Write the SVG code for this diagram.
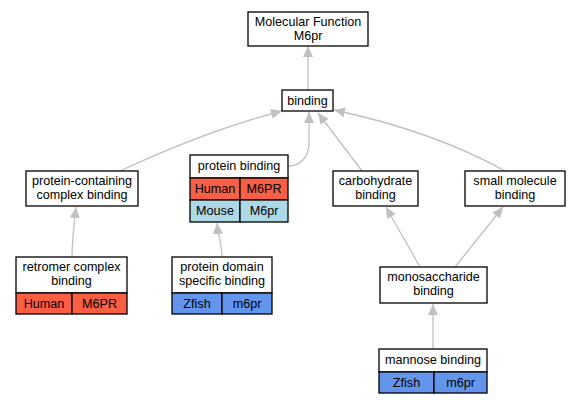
<svg xmlns="http://www.w3.org/2000/svg" width="577" height="405" viewBox="0 0 577 405">
<defs>
<marker id="arr" markerUnits="userSpaceOnUse" markerWidth="12" markerHeight="10" refX="11" refY="5" orient="auto">
<path d="M0,0 L11,5 L0,10 Z" fill="#c0c0c0"/>
</marker>
<style>
.box{fill:#fff;stroke:#000;stroke-width:1.3}
.red{fill:#fa5e44;stroke:#000;stroke-width:1.3}
.lb{fill:#add8e6;stroke:#000;stroke-width:1.3}
.bl{fill:#6495ed;stroke:#000;stroke-width:1.3}
text{font-family:"Liberation Sans",Arial,sans-serif;font-size:12.6px;fill:#000;text-anchor:middle}
.e{fill:none;stroke:#c0c0c0;stroke-width:1.3;marker-end:url(#arr)}
</style>
</defs>
<rect width="577" height="405" fill="#fff"/>
<g id="edges">
<path class="e" d="M308,90 L308,46"/>
<path class="e" d="M120,171 C165,150 220,127 282,111"/>
<path class="e" d="M288,166 C300,166 309,158 309,142 L309,112"/>
<path class="e" d="M362,171 L318,113"/>
<path class="e" d="M505,171 C460,146 400,124 334,110"/>
<path class="e" d="M72,257 C72,240 74,225 76,207"/>
<path class="e" d="M222,257 C222,245 218,235 217,223"/>
<path class="e" d="M420,267 L386,207"/>
<path class="e" d="M455,267 L503,207"/>
<path class="e" d="M433,349 L433,304"/>
</g>
<g id="mf">
<rect class="box" x="248" y="12" width="120" height="34"/>
<text x="308" y="26">Molecular Function</text>
<text x="308" y="40">M6pr</text>
</g>
<g id="binding">
<rect class="box" x="282" y="90" width="51" height="21"/>
<text x="307.5" y="105">binding</text>
</g>
<g id="pccb">
<rect class="box" x="26" y="171" width="112" height="35"/>
<text x="82" y="185">protein-containing</text>
<text x="82" y="199">complex binding</text>
</g>
<g id="pb">
<rect class="box" x="190" y="155" width="98" height="23"/>
<text x="239" y="170">protein binding</text>
<rect class="red" x="190" y="178" width="50" height="22"/>
<rect class="red" x="240" y="178" width="48" height="22"/>
<text x="215" y="193">Human</text>
<text x="264" y="193">M6PR</text>
<rect class="lb" x="190" y="200" width="50" height="22"/>
<rect class="lb" x="240" y="200" width="48" height="22"/>
<text x="215" y="215">Mouse</text>
<text x="264" y="215">M6pr</text>
</g>
<g id="carb">
<rect class="box" x="333" y="171" width="85" height="35"/>
<text x="375.5" y="185">carbohydrate</text>
<text x="375.5" y="199">binding</text>
</g>
<g id="smb">
<rect class="box" x="465" y="171" width="100" height="35"/>
<text x="515" y="185">small molecule</text>
<text x="515" y="199">binding</text>
</g>
<g id="rcb">
<rect class="box" x="16" y="257" width="111" height="36"/>
<text x="71.5" y="271">retromer complex</text>
<text x="71.5" y="285">binding</text>
<rect class="red" x="16" y="293" width="56" height="21"/>
<rect class="red" x="72" y="293" width="55" height="21"/>
<text x="44" y="308">Human</text>
<text x="99.5" y="308">M6PR</text>
</g>
<g id="pdsb">
<rect class="box" x="172" y="257" width="100" height="36"/>
<text x="222" y="271">protein domain</text>
<text x="222" y="285">specific binding</text>
<rect class="bl" x="172" y="293" width="50" height="21"/>
<rect class="bl" x="222" y="293" width="50" height="21"/>
<text x="197" y="308">Zfish</text>
<text x="247" y="308">m6pr</text>
</g>
<g id="mono">
<rect class="box" x="380" y="267" width="107" height="36"/>
<text x="433.5" y="281">monosaccharide</text>
<text x="433.5" y="295">binding</text>
</g>
<g id="mannose">
<rect class="box" x="379" y="349" width="108" height="23"/>
<text x="433" y="364">mannose binding</text>
<rect class="bl" x="379" y="372" width="55" height="21"/>
<rect class="bl" x="434" y="372" width="53" height="21"/>
<text x="406.5" y="387">Zfish</text>
<text x="460.5" y="387">m6pr</text>
</g>
</svg>
